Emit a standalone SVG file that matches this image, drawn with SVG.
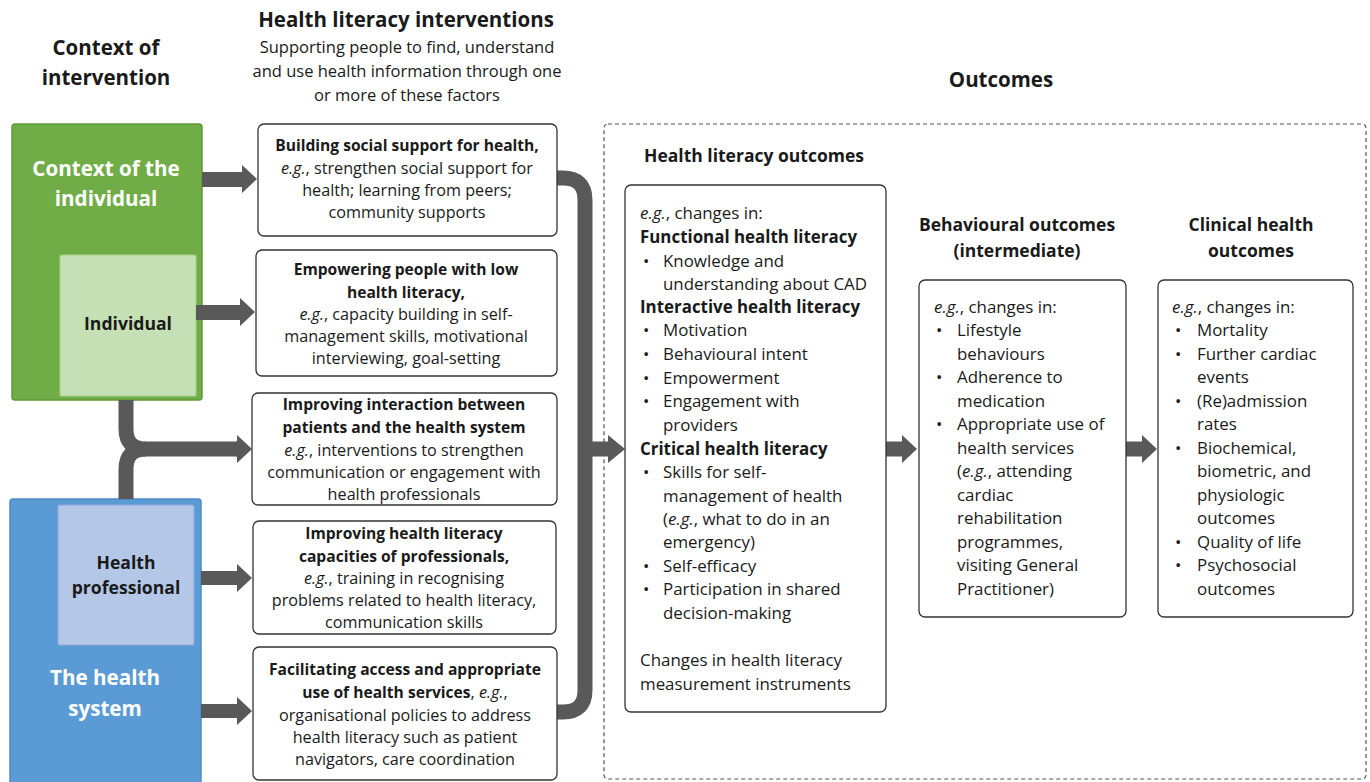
<svg xmlns="http://www.w3.org/2000/svg" width="1370" height="782" viewBox="0 0 1370 782">
<style>
text{font-family:"Open Sans","Liberation Sans",sans-serif;fill:#1a1a1a}
.h{font-weight:bold;font-size:20.5px}
.s{font-size:16.5px}
.m{font-size:16.2px;text-anchor:middle}
.m.b{font-size:15.6px}
.o{font-size:16.9px}
.t{font-weight:bold;font-size:17.5px;text-anchor:middle}
.b{font-weight:bold}
.i{font-style:italic}
.w{fill:#ffffff;font-weight:bold;font-size:20.6px;text-anchor:middle}
.k{font-weight:bold;font-size:17.6px;text-anchor:middle}
.box{fill:#ffffff;stroke:#333333;stroke-width:1.3}
.arr{fill:#595959}
.ln{fill:none;stroke:#595959;stroke-width:15}
</style>

<g id="titles">
<text class="h" x="106" y="55" text-anchor="middle">Context of</text>
<text class="h" x="106" y="85" text-anchor="middle">intervention</text>
<text class="h" x="406" y="27" text-anchor="middle" font-size="19.4">Health literacy interventions</text>
<text class="s" x="407" y="53" text-anchor="middle">Supporting people to find, understand</text>
<text class="s" x="407" y="77" text-anchor="middle">and use health information through one</text>
<text class="s" x="407" y="101" text-anchor="middle">or more of these factors</text>
<text class="h" x="1001" y="87" text-anchor="middle">Outcomes</text>
</g>

<g id="outcomes-frame">
<rect x="604" y="124" width="762" height="655" rx="4" fill="none" stroke="#555555" stroke-width="1.2" stroke-dasharray="4 3"/>
</g>

<g id="context-individual">
<rect x="12" y="124" width="190" height="276" rx="3" fill="#70AD47" stroke="#5f9a3a" stroke-width="1.5"/>
<text class="w" x="106" y="176">Context of the</text>
<text class="w" x="106" y="206">individual</text>
</g>
<g id="individual">
<rect x="60" y="255" width="136" height="141" rx="2" fill="#C5E0B4" stroke="#a9d18e" stroke-width="1.2"/>
<text class="k" x="128" y="330">Individual</text>
</g>

<g id="health-system">
<rect x="10" y="499" width="191" height="300" rx="3" fill="#5B9BD5" stroke="#4f8bc6" stroke-width="1.5"/>
<text class="w" x="105" y="685">The health</text>
<text class="w" x="105" y="716">system</text>
</g>
<g id="health-professional">
<rect x="58" y="505" width="136" height="140" rx="2" fill="#B4C7E7" stroke="#8faadc" stroke-width="1.2"/>
<text class="k" x="126" y="569">Health</text>
<text class="k" x="126" y="594">professional</text>
</g>

<g id="connectors">
<polygon class="arr" points="202,172 242,172 242,165 257,179 242,193 242,187 202,187"/>
<polygon class="arr" points="196,305 240,305 240,298 255,312 240,326 240,320 196,320"/>
<path class="ln" d="M126,400 V429 Q126,449 146,449 H238"/>
<path class="ln" d="M126,499 V469 Q126,449 146,449"/>
<polygon class="arr" points="236,441.5 237,441.5 237,435 252,449 237,463 237,456.5 236,456.5"/>
<polygon class="arr" points="201,571 237,571 237,564 252,578 237,592 237,585 201,585"/>
<polygon class="arr" points="201,704 237,704 237,697 252,711 237,725 237,718 201,718"/>
<path class="ln" d="M557,178 H563 Q585,178 585,200 V690 Q585,712 563,712 H557"/>
<polygon class="arr" points="585,441.5 608,441.5 608,435 625,449 608,463 608,456.5 585,456.5"/>
<polygon class="arr" points="886,441.5 902,441.5 902,435 917,449 902,463 902,456.5 886,456.5"/>
<polygon class="arr" points="1126,441.5 1142,441.5 1142,435 1157,449 1142,463 1142,456.5 1126,456.5"/>
</g>

<g id="int-social-support">
<rect class="box" x="258" y="124" width="299" height="112" rx="6"/>
<text class="m b" x="407" y="151">Building social support for health,</text>
<text class="m" x="407" y="174"><tspan class="i">e.g.</tspan>, strengthen social support for</text>
<text class="m" x="407" y="196">health; learning from peers;</text>
<text class="m" x="407" y="218">community supports</text>
</g>

<g id="int-empowering">
<rect class="box" x="256" y="250" width="301" height="126" rx="6"/>
<text class="m b" x="406" y="275">Empowering people with low</text>
<text class="m b" x="406" y="298">health literacy,</text>
<text class="m" x="406" y="320"><tspan class="i">e.g.</tspan>, capacity building in self-</text>
<text class="m" x="406" y="342">management skills, motivational</text>
<text class="m" x="406" y="364">interviewing, goal-setting</text>
</g>

<g id="int-interaction">
<rect class="box" x="252" y="393" width="305" height="112" rx="6"/>
<text class="m b" x="404" y="410">Improving interaction between</text>
<text class="m b" x="404" y="433">patients and the health system</text>
<text class="m" x="404" y="456"><tspan class="i">e.g.</tspan>, interventions to strengthen</text>
<text class="m" x="404" y="478">communication or engagement with</text>
<text class="m" x="404" y="500">health professionals</text>
</g>

<g id="int-professionals">
<rect class="box" x="253" y="521" width="303" height="113" rx="6"/>
<text class="m b" x="404" y="539">Improving health literacy</text>
<text class="m b" x="404" y="562">capacities of professionals,</text>
<text class="m" x="404" y="584"><tspan class="i">e.g.</tspan>, training in recognising</text>
<text class="m" x="404" y="606">problems related to health literacy,</text>
<text class="m" x="404" y="628">communication skills</text>
</g>

<g id="int-access">
<rect class="box" x="253" y="647" width="304" height="133" rx="6"/>
<text class="m b" x="405" y="675">Facilitating access and appropriate</text>
<text class="m" x="405" y="698"><tspan class="b" font-size="15.6">use of health services</tspan>, <tspan class="i">e.g.</tspan>,</text>
<text class="m" x="405" y="721">organisational policies to address</text>
<text class="m" x="405" y="743">health literacy such as patient</text>
<text class="m" x="405" y="765">navigators, care coordination</text>
</g>

<g id="hl-outcomes">
<text class="t" x="754" y="162">Health literacy outcomes</text>
<rect class="box" x="625" y="185" width="261" height="527" rx="6"/>
<text class="o" x="640" y="219"><tspan class="i">e.g.</tspan>, changes in:</text>
<text class="o b" x="640" y="243">Functional health literacy</text>
<text class="o" x="643" y="267">•</text><text class="o" x="663" y="267">Knowledge and</text>
<text class="o" x="663" y="290">understanding about CAD</text>
<text class="o b" x="640" y="313">Interactive health literacy</text>
<text class="o" x="643" y="336">•</text><text class="o" x="663" y="336">Motivation</text>
<text class="o" x="643" y="360">•</text><text class="o" x="663" y="360">Behavioural intent</text>
<text class="o" x="643" y="384">•</text><text class="o" x="663" y="384">Empowerment</text>
<text class="o" x="643" y="407">•</text><text class="o" x="663" y="407">Engagement with</text>
<text class="o" x="663" y="431">providers</text>
<text class="o b" x="640" y="455">Critical health literacy</text>
<text class="o" x="643" y="478">•</text><text class="o" x="663" y="478">Skills for self-</text>
<text class="o" x="663" y="502">management of health</text>
<text class="o" x="663" y="525">(<tspan class="i">e.g.</tspan>, what to do in an</text>
<text class="o" x="663" y="548">emergency)</text>
<text class="o" x="643" y="572">•</text><text class="o" x="663" y="572">Self-efficacy</text>
<text class="o" x="643" y="595">•</text><text class="o" x="663" y="595">Participation in shared</text>
<text class="o" x="663" y="619">decision-making</text>
<text class="o" x="640" y="666">Changes in health literacy</text>
<text class="o" x="640" y="690">measurement instruments</text>
</g>

<g id="behavioural-outcomes">
<text class="t" x="1017" y="231">Behavioural outcomes</text>
<text class="t" x="1017" y="257">(intermediate)</text>
<rect class="box" x="919" y="280" width="207" height="337" rx="6"/>
<text class="o" x="934" y="313"><tspan class="i">e.g.</tspan>, changes in:</text>
<text class="o" x="936" y="336">•</text><text class="o" x="957" y="336">Lifestyle</text>
<text class="o" x="957" y="360">behaviours</text>
<text class="o" x="936" y="383">•</text><text class="o" x="957" y="383">Adherence to</text>
<text class="o" x="957" y="407">medication</text>
<text class="o" x="936" y="430">•</text><text class="o" x="957" y="430">Appropriate use of</text>
<text class="o" x="957" y="454">health services</text>
<text class="o" x="957" y="477">(<tspan class="i">e.g.</tspan>, attending</text>
<text class="o" x="957" y="501">cardiac</text>
<text class="o" x="957" y="524">rehabilitation</text>
<text class="o" x="957" y="548">programmes,</text>
<text class="o" x="957" y="571">visiting General</text>
<text class="o" x="957" y="595">Practitioner)</text>
</g>

<g id="clinical-outcomes">
<text class="t" x="1251" y="231">Clinical health</text>
<text class="t" x="1251" y="257">outcomes</text>
<rect class="box" x="1158" y="280" width="195" height="337" rx="6"/>
<text class="o" x="1172" y="313"><tspan class="i">e.g.</tspan>, changes in:</text>
<text class="o" x="1175" y="336">•</text><text class="o" x="1197" y="336">Mortality</text>
<text class="o" x="1175" y="360">•</text><text class="o" x="1197" y="360">Further cardiac</text>
<text class="o" x="1197" y="383">events</text>
<text class="o" x="1175" y="407">•</text><text class="o" x="1197" y="407">(Re)admission</text>
<text class="o" x="1197" y="430">rates</text>
<text class="o" x="1175" y="454">•</text><text class="o" x="1197" y="454">Biochemical,</text>
<text class="o" x="1197" y="477">biometric, and</text>
<text class="o" x="1197" y="501">physiologic</text>
<text class="o" x="1197" y="524">outcomes</text>
<text class="o" x="1175" y="548">•</text><text class="o" x="1197" y="548">Quality of life</text>
<text class="o" x="1175" y="571">•</text><text class="o" x="1197" y="571">Psychosocial</text>
<text class="o" x="1197" y="595">outcomes</text>
</g>
</svg>
